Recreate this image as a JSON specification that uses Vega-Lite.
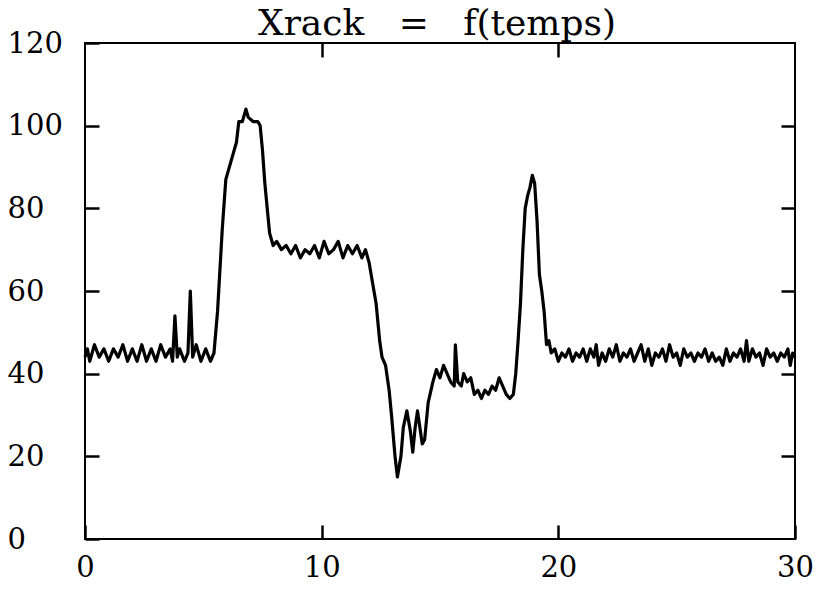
{
  "$schema": "https://vega.github.io/schema/vega-lite/v6.json",
  "width": 710,
  "height": 496,
  "autosize": {"type": "none"},
  "padding": {"left": 85, "top": 43, "right": 28, "bottom": 51},
  "background": "white",
  "title": {"text": "Xrack\u00a0\u00a0\u00a0=\u00a0\u00a0\u00a0f(temps)", "font": "DejaVu Serif", "fontSize": 36, "fontWeight": "normal", "color": "black", "anchor": "middle", "offset": -14, "dx": -3},
  "config": {
    "view": {"stroke": "black", "strokeWidth": 2},
    "axis": {"grid": false, "domain": false, "labelFont": "DejaVu Serif", "labelFontSize": 29, "labelColor": "black", "tickColor": "black", "tickWidth": 2.5, "tickSize": -14, "ticks": true}
  },
  "data": {"values": [
    {"t": 0, "v": 44}, {"t": 0.1, "v": 46}, {"t": 0.2, "v": 43}, {"t": 0.4, "v": 47}, {"t": 0.6, "v": 44}, {"t": 0.8, "v": 46},
    {"t": 1.0, "v": 43}, {"t": 1.2, "v": 46}, {"t": 1.4, "v": 44}, {"t": 1.6, "v": 47}, {"t": 1.8, "v": 43}, {"t": 2.0, "v": 46},
    {"t": 2.2, "v": 43}, {"t": 2.4, "v": 47}, {"t": 2.6, "v": 43}, {"t": 2.8, "v": 46}, {"t": 3.0, "v": 43}, {"t": 3.2, "v": 47},
    {"t": 3.4, "v": 44}, {"t": 3.6, "v": 46}, {"t": 3.7, "v": 43}, {"t": 3.8, "v": 54}, {"t": 3.9, "v": 44}, {"t": 4.0, "v": 46},
    {"t": 4.2, "v": 43}, {"t": 4.35, "v": 45}, {"t": 4.45, "v": 60}, {"t": 4.55, "v": 44}, {"t": 4.7, "v": 47}, {"t": 4.9, "v": 43},
    {"t": 5.1, "v": 46}, {"t": 5.3, "v": 43}, {"t": 5.45, "v": 45},
    {"t": 5.6, "v": 55}, {"t": 5.8, "v": 75}, {"t": 5.95, "v": 87}, {"t": 6.1, "v": 90}, {"t": 6.25, "v": 93}, {"t": 6.4, "v": 96},
    {"t": 6.5, "v": 101}, {"t": 6.65, "v": 101}, {"t": 6.8, "v": 104}, {"t": 6.9, "v": 102}, {"t": 7.1, "v": 101}, {"t": 7.3, "v": 101},
    {"t": 7.4, "v": 100}, {"t": 7.5, "v": 94}, {"t": 7.6, "v": 86}, {"t": 7.7, "v": 80}, {"t": 7.8, "v": 74}, {"t": 7.95, "v": 71},
    {"t": 8.1, "v": 72}, {"t": 8.3, "v": 70}, {"t": 8.5, "v": 71}, {"t": 8.7, "v": 69}, {"t": 8.9, "v": 71}, {"t": 9.1, "v": 68},
    {"t": 9.3, "v": 70}, {"t": 9.5, "v": 69}, {"t": 9.7, "v": 71}, {"t": 9.9, "v": 68}, {"t": 10.1, "v": 72}, {"t": 10.3, "v": 69},
    {"t": 10.5, "v": 70}, {"t": 10.7, "v": 72}, {"t": 10.9, "v": 68}, {"t": 11.1, "v": 71}, {"t": 11.3, "v": 69}, {"t": 11.5, "v": 71},
    {"t": 11.7, "v": 68}, {"t": 11.85, "v": 70}, {"t": 12.0, "v": 67}, {"t": 12.15, "v": 62}, {"t": 12.3, "v": 57}, {"t": 12.45, "v": 48},
    {"t": 12.55, "v": 44}, {"t": 12.7, "v": 42}, {"t": 12.85, "v": 36}, {"t": 12.95, "v": 30}, {"t": 13.1, "v": 20}, {"t": 13.2, "v": 15},
    {"t": 13.35, "v": 20}, {"t": 13.45, "v": 27}, {"t": 13.6, "v": 31}, {"t": 13.75, "v": 26}, {"t": 13.85, "v": 21}, {"t": 13.95, "v": 27},
    {"t": 14.05, "v": 31}, {"t": 14.15, "v": 27}, {"t": 14.25, "v": 23}, {"t": 14.35, "v": 24}, {"t": 14.5, "v": 33}, {"t": 14.7, "v": 38},
    {"t": 14.85, "v": 41}, {"t": 15.0, "v": 39}, {"t": 15.15, "v": 42}, {"t": 15.3, "v": 40}, {"t": 15.45, "v": 38}, {"t": 15.6, "v": 37},
    {"t": 15.65, "v": 47}, {"t": 15.75, "v": 38}, {"t": 15.9, "v": 37}, {"t": 16.0, "v": 40}, {"t": 16.15, "v": 38}, {"t": 16.3, "v": 39},
    {"t": 16.45, "v": 35}, {"t": 16.6, "v": 36}, {"t": 16.75, "v": 34}, {"t": 16.9, "v": 36}, {"t": 17.05, "v": 35}, {"t": 17.2, "v": 37},
    {"t": 17.35, "v": 36}, {"t": 17.5, "v": 39}, {"t": 17.65, "v": 37}, {"t": 17.8, "v": 35}, {"t": 17.95, "v": 34}, {"t": 18.1, "v": 35},
    {"t": 18.2, "v": 40}, {"t": 18.3, "v": 48}, {"t": 18.4, "v": 57}, {"t": 18.5, "v": 70}, {"t": 18.6, "v": 80}, {"t": 18.7, "v": 83},
    {"t": 18.8, "v": 85}, {"t": 18.9, "v": 88}, {"t": 19.0, "v": 86}, {"t": 19.1, "v": 77}, {"t": 19.2, "v": 64}, {"t": 19.3, "v": 60},
    {"t": 19.4, "v": 55}, {"t": 19.5, "v": 47}, {"t": 19.6, "v": 48},
    {"t": 19.7, "v": 45}, {"t": 19.85, "v": 46}, {"t": 20.0, "v": 43}, {"t": 20.15, "v": 45}, {"t": 20.3, "v": 44}, {"t": 20.45, "v": 46},
    {"t": 20.6, "v": 43}, {"t": 20.75, "v": 45}, {"t": 20.9, "v": 44}, {"t": 21.05, "v": 46}, {"t": 21.2, "v": 43}, {"t": 21.35, "v": 46},
    {"t": 21.5, "v": 44}, {"t": 21.6, "v": 47}, {"t": 21.7, "v": 42}, {"t": 21.85, "v": 45}, {"t": 22.0, "v": 43}, {"t": 22.15, "v": 46},
    {"t": 22.3, "v": 44}, {"t": 22.45, "v": 47}, {"t": 22.6, "v": 43}, {"t": 22.75, "v": 45}, {"t": 22.9, "v": 44}, {"t": 23.05, "v": 46},
    {"t": 23.2, "v": 43}, {"t": 23.35, "v": 45}, {"t": 23.5, "v": 47}, {"t": 23.65, "v": 43}, {"t": 23.8, "v": 46}, {"t": 23.95, "v": 42},
    {"t": 24.1, "v": 45}, {"t": 24.25, "v": 44}, {"t": 24.4, "v": 46}, {"t": 24.55, "v": 43}, {"t": 24.7, "v": 47}, {"t": 24.85, "v": 44},
    {"t": 25.0, "v": 45}, {"t": 25.15, "v": 42}, {"t": 25.3, "v": 46}, {"t": 25.45, "v": 44}, {"t": 25.6, "v": 45}, {"t": 25.75, "v": 43},
    {"t": 25.9, "v": 45}, {"t": 26.05, "v": 44}, {"t": 26.2, "v": 46}, {"t": 26.35, "v": 43}, {"t": 26.5, "v": 45}, {"t": 26.65, "v": 43},
    {"t": 26.8, "v": 44}, {"t": 26.95, "v": 42}, {"t": 27.1, "v": 46}, {"t": 27.25, "v": 43}, {"t": 27.4, "v": 45}, {"t": 27.55, "v": 44},
    {"t": 27.7, "v": 46}, {"t": 27.85, "v": 43}, {"t": 27.95, "v": 48}, {"t": 28.05, "v": 43}, {"t": 28.2, "v": 46}, {"t": 28.35, "v": 44},
    {"t": 28.5, "v": 45}, {"t": 28.65, "v": 42}, {"t": 28.8, "v": 46}, {"t": 28.95, "v": 44}, {"t": 29.1, "v": 45}, {"t": 29.25, "v": 43},
    {"t": 29.4, "v": 45}, {"t": 29.55, "v": 44}, {"t": 29.7, "v": 46}, {"t": 29.8, "v": 42}, {"t": 29.9, "v": 45}, {"t": 30.0, "v": 44}
  ]},
  "layer": [
    {
      "mark": {"type": "line", "color": "black", "strokeWidth": 3.2, "strokeJoin": "round"},
      "encoding": {
        "x": {"field": "t", "type": "quantitative", "scale": {"domain": [0, 30], "nice": false, "zero": false},
              "axis": {"orient": "bottom", "title": null, "values": [0, 10, 20, 30], "labelPadding": 28, "labelFlush": false}},
        "y": {"field": "v", "type": "quantitative", "scale": {"domain": [0, 120], "nice": false},
              "axis": {"orient": "left", "title": null, "values": [0, 20, 40, 60, 80, 100, 120], "labelAlign": "left", "labelPadding": 92}}
      }
    },
    {
      "mark": {"type": "line", "color": "black", "strokeWidth": 3, "opacity": 0},
      "encoding": {
        "x": {"field": "t", "type": "quantitative", "axis": {"orient": "top", "title": null, "values": [10, 20], "labels": false}},
        "y": {"field": "v", "type": "quantitative", "axis": {"orient": "right", "title": null, "values": [20, 40, 60, 80, 100], "labels": false}}
      }
    }
  ],
  "resolve": {"axis": {"x": "independent", "y": "independent"}}
}
